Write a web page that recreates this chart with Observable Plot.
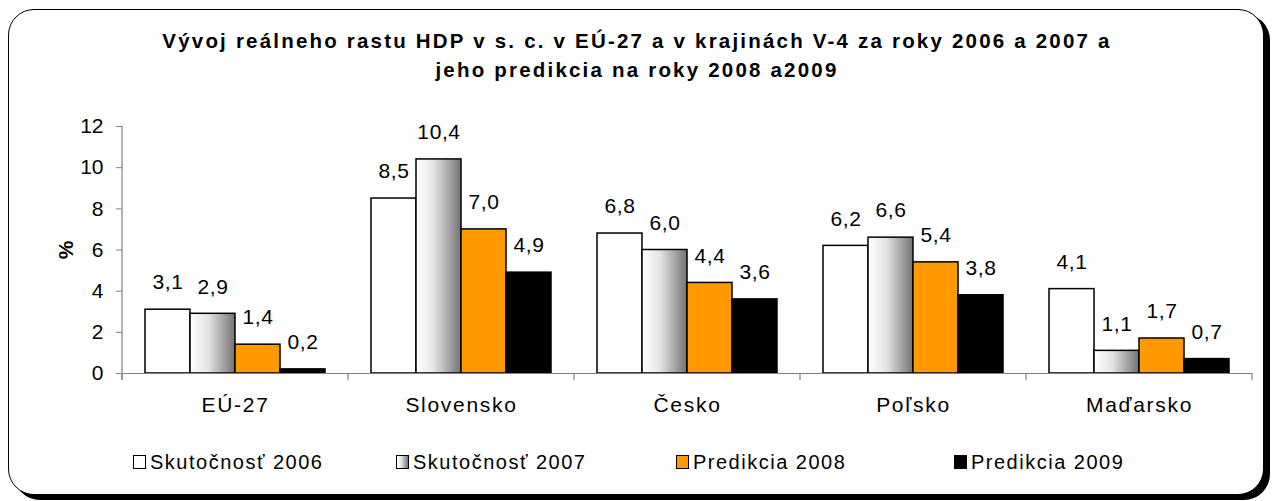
<!DOCTYPE html>
<html>
<head>
<meta charset="utf-8">
<script src="https://cdn.jsdelivr.net/npm/d3@7"></script>
<script src="https://cdn.jsdelivr.net/npm/@observablehq/plot@0.6"></script>
<style>
  html, body { margin: 0; padding: 0; background: #fff; width: 1274px; height: 501px; overflow: hidden; }
  body { font-family: "Liberation Sans", Arial, sans-serif; color: #000; position: relative; }
  #frame { position: absolute; left: 8px; top: 9px; width: 1256px; height: 486px; box-sizing: border-box;
           border: 1.5px solid #000; border-radius: 26px; box-shadow: 6px 5px 0 #000; background: #fff; }
  #title { position: absolute; left: 0; top: 26px; width: 1274px; text-align: center; font-weight: bold;
           font-size: 20.5px; line-height: 29px; letter-spacing: 2.2px; }
  #chart { position: absolute; left: 0; top: 100px; }
  #legend { position: absolute; left: 0; top: 451px; width: 1274px; height: 24px;
            font-size: 20px; line-height: 22px; letter-spacing: 1.5px; }
  .item { position: absolute; top: 0; display: flex; align-items: center; white-space: nowrap; }
  .sw { width: 13px; height: 14px; border: 1px solid #000; margin-right: 4px; box-sizing: border-box; }
  #chart svg g[aria-label="fx-axis tick label"] text { letter-spacing: 1.7px; }
  #chart svg g[aria-label="y-axis label"] text { font-weight: bold; }
  #chart svg g[aria-label="text"] text { letter-spacing: 0.6px; }
</style>
</head>
<body>
<div id="frame"></div>
<div id="title"></div>
<div id="chart"></div>
<div id="legend"></div>
<script>
const titleLines = ["Vývoj reálneho rastu HDP v s. c. v EÚ-27 a v krajinách V-4 za roky 2006 a 2007 a", "jeho predikcia na roky 2008 a2009"];
const categories = ["EÚ-27", "Slovensko", "Česko", "Poľsko", "Maďarsko"];
const series = ["Skutočnosť 2006", "Skutočnosť 2007", "Predikcia 2008", "Predikcia 2009"];
const v2006 = [3.1, 8.5, 6.8, 6.2, 4.1];
const v2007 = [2.9, 10.4, 6.0, 6.6, 1.1];
const v2008 = [1.4, 7.0, 4.4, 5.4, 1.7];
const v2009 = [0.2, 4.9, 3.6, 3.8, 0.7];
const yTicks = [0, 2, 4, 6, 8, 10, 12];
const yLabel = "%";
const seriesColors = ["#ffffff", "url(#grad2007)", "#ff9900", "#000000"];
const legendSwatches = ["#ffffff", "linear-gradient(to right, #ffffff, #e4e4e4 40%, #737373)", "#ff9900", "#000000"];
const legendLeft = [133, 396, 676, 954];

const valuesBySeries = [v2006, v2007, v2008, v2009];
const data = categories.flatMap((c, i) => valuesBySeries.map((arr, j) => ({category: c, series: series[j], value: arr[i]})));
const fmt = v => d3.format(".1f")(v).replace(".", ",");

document.getElementById("title").innerHTML = titleLines.map(t => `<div>${t}</div>`).join("");

const legend = document.getElementById("legend");
series.forEach((s, i) => {
  const it = document.createElement("div");
  it.className = "item";
  it.style.left = legendLeft[i] + "px";
  it.innerHTML = `<span class="sw" style="background:${legendSwatches[i]}"></span><span>${s}</span>`;
  legend.appendChild(it);
});

const plot = Plot.plot({
  width: 1274,
  height: 330,
  marginLeft: 121,
  marginRight: 22,
  marginTop: 26,
  marginBottom: 57,
  style: {fontFamily: "'Liberation Sans', Arial, sans-serif", fontSize: "21px", color: "#000", background: "transparent", overflow: "visible"},
  fx: {domain: categories, padding: 0, label: null, tickSize: 0, tickPadding: 24},
  x: {domain: series, paddingInner: 0, paddingOuter: 0.51, axis: null},
  y: {domain: [0, 12]},
  color: {domain: series, range: seriesColors},
  marks: [
    Plot.barY(data, {fx: "category", x: "series", y: "value", fill: "series", stroke: "#000", strokeWidth: 1.5}),
    Plot.ruleY([0], {stroke: "#808080", strokeWidth: 1.2}),
    Plot.text(data, {fx: "category", x: "series", y: "value", text: d => fmt(d.value), dy: -27, fontSize: 21, fill: "#000"}),
    Plot.axisY(yTicks, {tickSize: 6, tickPadding: 13, stroke: "#808080", fill: "#000", fontSize: 21,
      label: yLabel, labelAnchor: "center", labelOffset: 64, labelArrow: "none"})
  ]
});

const svg = d3.select(plot);
const defs = svg.insert("defs", ":first-child");
const g = defs.append("linearGradient").attr("id", "grad2007").attr("x1", 0).attr("x2", 1).attr("y1", 0).attr("y2", 0);
g.append("stop").attr("offset", 0).attr("stop-color", "#ffffff");
g.append("stop").attr("offset", 0.4).attr("stop-color", "#e4e4e4");
g.append("stop").attr("offset", 1).attr("stop-color", "#737373");

// axis lines & category boundary ticks, positioned via Plot's scales
const fx = plot.scale("fx");
const y = plot.scale("y");
const y0 = y.apply(0), y12 = y.apply(12);
const left = fx.apply(categories[0]);
const right = fx.apply(categories[categories.length - 1]) + fx.bandwidth;
const axes = svg.append("g").attr("stroke", "#808080").attr("stroke-width", 1.2);
axes.append("line").attr("x1", left).attr("x2", left).attr("y1", y12).attr("y2", y0 + 7);
const bounds = categories.map(c => fx.apply(c)).concat([right]);
bounds.forEach(b => axes.append("line").attr("x1", b).attr("x2", b).attr("y1", y0).attr("y2", y0 + 7));

document.getElementById("chart").appendChild(plot);
</script>
</body>
</html>
